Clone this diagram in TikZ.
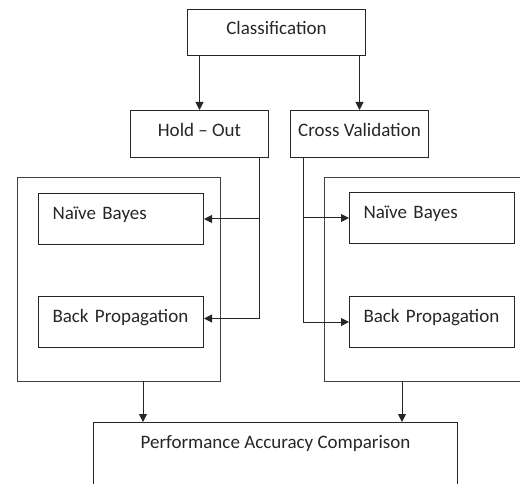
\documentclass[tikz,border=0pt]{standalone}
\usepackage{fontspec}
\setmainfont{Carlito}
\usetikzlibrary{arrows.meta,calc}
\tikzset{
  stagebox/.style={
    draw=black!85, line width=1pt, rectangle, anchor=north west,
    font=\fontsize{19}{23}\selectfont, text=black!85, align=center,
    inner sep=0pt, text depth=9pt
  },
  algobox/.style={
    stagebox, align=left, inner xsep=14pt, text width=137pt,
    minimum height=51pt, text depth=12pt
  },
  groupbox/.style={draw=black!75, line width=1pt, rectangle, anchor=north west, inner sep=0pt},
  flow/.style={-{Triangle[length=8pt, width=8pt]}, line width=1pt, draw=black!85}
}
\newcommand{\stage}[6]{%
  \node[stagebox, minimum width=#5pt, minimum height=#6pt] (#1) at (#3,#4) {#2};%
}

\begin{document}
\begin{tikzpicture}[x=1pt, y=-1pt]
    \useasboundingbox (0,0) rectangle (520,484);
    \clip (0,0) rectangle (520,484);
    % top of the tree
    \stage{classif}{Classification}{187}{9}{178}{46}
    \stage{holdout}{Hold -- Out}{130}{110}{138}{47}
    \stage{crossval}{Cross Validation}{290}{110}{138}{47}
    % two groups of classifiers
    \node[groupbox, minimum width=203pt, minimum height=204pt] (holdgrp) at (17,177) {};
    \node[groupbox, minimum width=203pt, minimum height=204pt] (crossgrp) at (324,177) {};
    \node[algobox] (holdnb) at (38,193) {Naïve Bayes};
    \node[algobox] (holdbp) at (38,296) {Back Propagation};
    \node[algobox] (crossnb) at (349,192) {Naïve Bayes};
    \node[algobox] (crossbp) at (349,296) {Back Propagation};
    % result
    \node[stagebox, minimum width=364pt, minimum height=100pt,
          label={[font=\fontsize{19}{23}\selectfont, text=black!85, anchor=north, yshift=-10pt]north:Performance Accuracy Comparison}]
          (perf) at (93,422) {};
    \coordinate (holdtap) at ($(holdout.south east)+(-10,0)$);
    \coordinate (crosstap) at ($(crossval.south west)+(13,0)$);
    \coordinate (holddrop) at (143,381);
    \coordinate (crossdrop) at (402,381);
    \draw[flow] (classif.south -| holdout.north) -- (holdout.north);
    \draw[flow] (classif.south -| crossval.north) -- (crossval.north);
    \draw[flow] (holdtap) |- ([yshift=3.5pt]holdbp.east);
    \draw[flow] (holdtap |- holdnb.east) -- (holdnb.east);
    \draw[flow] (crosstap) |- (crossbp.west);
    \draw[flow] (crosstap |- crossnb.west) -- (crossnb.west);
    \draw[flow] (holddrop) -- (holddrop |- perf.north);
    \draw[flow] (crossdrop) -- (crossdrop |- perf.north);
\end{tikzpicture}
\end{document}
